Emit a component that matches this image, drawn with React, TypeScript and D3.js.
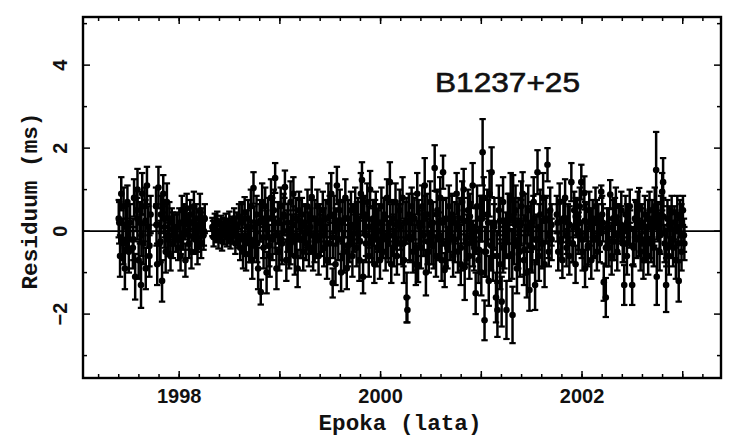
import React from "react";
import * as d3 from "d3";

// ---- data (epoch in years, residual in ms, error in ms) ----
const epochs: number[] = [
  1997.400, 1997.413, 1997.425, 1997.436, 1997.448, 1997.461, 1997.473, 1997.486, 1997.500, 1997.512,
  1997.540, 1997.552, 1997.563, 1997.575, 1997.586, 1997.598, 1997.610, 1997.621, 1997.633, 1997.645,
  1997.657, 1997.668, 1997.680, 1997.692, 1997.704, 1997.716,
  1997.770, 1997.782, 1997.794, 1997.806, 1997.818, 1997.830, 1997.842, 1997.854, 1997.866, 1997.878,
  1997.890, 1997.902, 1997.914, 1997.926, 1997.938, 1997.950,
  1997.965, 1997.978, 1997.990, 1998.002, 1998.014, 1998.026, 1998.038, 1998.050, 1998.062, 1998.074,
  1998.086, 1998.098, 1998.110, 1998.122, 1998.134, 1998.146, 1998.158, 1998.170, 1998.182, 1998.194,
  1998.206, 1998.218, 1998.230, 1998.242, 1998.254,
  1998.330, 1998.342, 1998.354, 1998.366, 1998.378, 1998.390, 1998.402, 1998.414, 1998.426, 1998.438,
  1998.450, 1998.462, 1998.474, 1998.486, 1998.498, 1998.510, 1998.522, 1998.534, 1998.546, 1998.558,
  1998.570, 1998.582, 1998.594, 1998.606,
  1998.618, 1998.634, 1998.650, 1998.664, 1998.680, 1998.696, 1998.712, 1998.726, 1998.738, 1998.752,
  1998.768, 1998.784, 1998.798, 1998.810, 1998.824, 1998.838, 1998.854, 1998.868, 1998.884, 1998.898,
  1998.912, 1998.926, 1998.940, 1998.953, 1998.966, 1998.980, 1998.994, 1999.008, 1999.022, 1999.036,
  1999.050, 1999.064, 1999.078, 1999.092, 1999.106, 1999.120, 1999.134, 1999.148, 1999.162, 1999.176,
  1999.190, 1999.204, 1999.218, 1999.232, 1999.246, 1999.260, 1999.274, 1999.288, 1999.302, 1999.316,
  1999.330, 1999.344, 1999.358, 1999.372, 1999.384, 1999.398, 1999.412, 1999.426, 1999.440, 1999.454,
  1999.468, 1999.482, 1999.496, 1999.510, 1999.524, 1999.538, 1999.552, 1999.566, 1999.580, 1999.594,
  1999.608, 1999.622, 1999.636, 1999.650, 1999.664, 1999.678, 1999.692, 1999.706, 1999.720, 1999.734,
  1999.748, 1999.762, 1999.776, 1999.790, 1999.804, 1999.815, 1999.826, 1999.840, 1999.854, 1999.868,
  1999.882, 1999.896, 1999.910, 1999.924, 1999.938, 1999.952, 1999.966, 1999.980, 1999.994, 2000.008,
  2000.022, 2000.036, 2000.050, 2000.064, 2000.078, 2000.092, 2000.106, 2000.120, 2000.134, 2000.148,
  2000.162, 2000.176,
  2000.190, 2000.204, 2000.218, 2000.232, 2000.246, 2000.258, 2000.266, 2000.280, 2000.294, 2000.308,
  2000.322, 2000.336, 2000.350, 2000.364, 2000.372, 2000.386, 2000.400, 2000.414, 2000.428, 2000.438,
  2000.450, 2000.464, 2000.478, 2000.492, 2000.506, 2000.520, 2000.537, 2000.550, 2000.564, 2000.578,
  2000.592, 2000.606, 2000.620, 2000.636, 2000.650, 2000.664, 2000.678, 2000.692, 2000.706, 2000.720,
  2000.734, 2000.755, 2000.768, 2000.782, 2000.796, 2000.810, 2000.825, 2000.835, 2000.854, 2000.868,
  2000.882, 2000.896, 2000.914, 2000.930, 2000.944, 2000.958, 2000.972, 2000.986, 2001.000, 2001.013,
  2001.024, 2001.032, 2001.046, 2001.060, 2001.074, 2001.082, 2001.102, 2001.116, 2001.130, 2001.146,
  2001.160, 2001.174, 2001.188, 2001.202, 2001.216, 2001.230, 2001.250, 2001.264, 2001.278, 2001.292,
  2001.310, 2001.316, 2001.326, 2001.340, 2001.354, 2001.368, 2001.382, 2001.396, 2001.410, 2001.424,
  2001.438, 2001.452, 2001.466, 2001.478, 2001.492, 2001.506, 2001.520, 2001.534, 2001.548, 2001.558,
  2001.572, 2001.586, 2001.600, 2001.614, 2001.628, 2001.642, 2001.657, 2001.670, 2001.684, 2001.698,
  2001.750, 2001.764, 2001.778, 2001.792, 2001.805, 2001.818, 2001.832, 2001.846, 2001.860, 2001.874,
  2001.894, 2001.908, 2001.922, 2001.936, 2001.950, 2001.964, 2001.978, 2001.993, 2002.006, 2002.023,
  2002.030, 2002.044, 2002.058, 2002.072, 2002.092, 2002.106, 2002.120, 2002.134, 2002.148, 2002.162,
  2002.176, 2002.191, 2002.200, 2002.216, 2002.236, 2002.250, 2002.264, 2002.280, 2002.294, 2002.308,
  2002.322, 2002.336, 2002.350, 2002.364, 2002.390, 2002.404, 2002.419, 2002.432, 2002.446, 2002.460,
  2002.474, 2002.498, 2002.512, 2002.526, 2002.540, 2002.554, 2002.568, 2002.582, 2002.596, 2002.610,
  2002.624, 2002.638, 2002.657, 2002.670, 2002.684, 2002.698, 2002.712, 2002.722, 2002.736, 2002.742,
  2002.756, 2002.770, 2002.784, 2002.796, 2002.805, 2002.820, 2002.835, 2002.848, 2002.862, 2002.876,
  2002.890, 2002.904, 2002.918, 2002.932, 2002.946, 2002.960, 2002.974, 2002.988, 2003.002, 2003.016,
];

const residuals: number[] = [
  0.3, -0.6, 0.9, -0.2, 0.6, -0.9, 0.1, 0.7, -0.5, 0.2,
  -0.4, 0.8, -1.1, 0.5, 1.0, -0.7, 0.2, -1.3, 0.9, -0.3,
  0.6, -0.9, 1.1, 0.1, -0.6, 0.4,
  0.6, -0.8, 1.05, -0.3, 0.4, -1.2, 0.9, 0.1, -0.5, 0.7,
  -0.2, 0.3, -0.6, 0.2, -0.3, 0.1,
  -0.2, 0.1, -0.4, 0.2, -0.6, 0.5, -0.1, 0.3, -0.7, 0.55,
  0.0, -0.3, 0.4, -0.5, 0.2, 0.6, -0.2, 0.3, -0.4, 0.1,
  0.5, -0.3, 0.2, -0.1, 0.3,
  0.1, -0.15, 0.2, -0.05, 0.25, -0.2, 0.0, 0.15, -0.25, 0.1,
  -0.1, 0.2, -0.15, 0.05, 0.25, -0.2, 0.1, -0.05, 0.3, -0.3,
  0.15, -0.1, 0.35, -0.4,
  0.3, -0.5, 0.45, -0.55, 0.1, -0.3, 0.6, -0.7, 1.04, -0.2,
  0.4, -0.9, 0.2, -1.47, 0.7, -0.4, 0.6, -1.0, 0.3, -0.6,
  0.8, -0.2, 0.5, 1.28, -0.9, 0.2, -0.5, 0.6, -0.3, 0.4,
  1.06, -0.7, 0.2, -0.4, 0.7, -0.1, 0.9, -0.6, 0.3, -0.9,
  0.5, -0.2, 0.4, -0.5, 0.2, -0.3, 0.6, -0.4, 0.1, 0.82,
  -0.5, 0.3, -0.2, 0.6, -0.6, 0.2, -0.1, 0.5, -0.4, 0.3,
  -0.7, 0.7, -0.3, 0.9, -1.25, 0.4, -0.8, 1.1, -0.2, 0.5,
  -1.0, 0.2, -0.5, 0.8, -0.9, 0.3, -0.3, 0.5, -0.6, 0.1,
  0.6, -0.4, 0.3, -0.7, 0.9, 1.23, -1.1, 0.4, -0.3, 0.7,
  -0.6, 1.0, -0.2, 0.3, -0.8, 0.5, -0.4, 0.2, -0.7, 0.6,
  -0.2, 0.4, -0.5, 0.8, -0.3, 1.18, -0.8, 0.3, -0.4, 0.7,
  -0.6, 0.2,
  0.5, -0.3, 0.8, -0.7, 0.2, -1.6, -1.9, 0.4, -0.2, 0.6,
  -0.5, 0.3, -0.8, 0.9, -0.82, 0.1, -0.4, 0.6, -0.1, 1.1,
  -1.0, 0.4, -0.5, 0.7, -0.3, 0.2, 1.52, -0.6, 0.5, -0.2,
  0.8, -0.7, 1.42, -0.94, 0.3, -0.4, 0.6, -0.2, 0.4, -0.6,
  0.2, 0.9, -0.5, 0.3, -0.8, 0.7, 1.0, -0.87, -0.3, 0.5,
  -0.6, 0.2, 1.1, -0.4, -1.5, 0.6, -0.7, 0.3, -1.0, 1.9,
  0.8, -2.15, -0.5, 0.4, -1.2, 0.9, 1.42, -0.6, 0.2, -1.6,
  -1.9, 0.5, -0.8, -1.7, 0.7, -0.3, -1.9, 0.3, -0.6, 0.8,
  -2.02, 0.75, -0.2, 0.5, -0.9, 0.2, -0.5, 0.6, 0.9, -0.7,
  0.3, -1.0, 0.5, -1.42, 0.1, -0.4, 0.7, -1.3, -0.2, 1.42,
  -0.6, 0.4, -0.3, 0.8, -0.8, 0.3, 1.6, -0.5, 0.5, -0.2,
  0.4, -0.5, 0.7, -0.2, -0.7, 0.3, 0.8, -0.4, 0.2, -0.6,
  1.18, -0.3, 0.5, -0.8, 0.3, -0.1, 0.6, 1.18, -0.5, 0.92,
  -0.9, 0.2, -0.4, 0.5, -0.7, 0.3, -0.2, 0.6, -0.5, 0.2,
  -0.3, 0.95, 0.4, -1.23, -1.6, 0.1, -0.4, 0.88, -0.6, 0.3,
  -0.25, 0.6, -0.5, 0.2, 0.5, -0.3, -1.3, 0.4, -0.6, 0.1,
  0.6, -1.3, -0.4, 0.3, -0.2, 0.5, 0.6, -0.5, 0.2, -0.7,
  0.4, -0.3, -0.6, 0.5, -0.2, 0.3, -0.4, 0.6, 1.47, -1.1,
  0.2, -0.5, 0.4, 0.95, 1.18, -0.3, -1.3, 0.3, -0.6, 0.1,
  0.45, -0.4, 0.2, -0.7, 0.4, -1.2, 0.3, -0.5, 0.5, -0.3,
];

const errors: number[] = [
  0.45, 0.5, 0.4, 0.5, 0.45, 0.5, 0.55, 0.4, 0.5, 0.45,
  0.5, 0.45, 0.55, 0.5, 0.5, 0.45, 0.5, 0.55, 0.5, 0.5,
  0.45, 0.5, 0.45, 0.5, 0.5, 0.45,
  0.45, 0.5, 0.5, 0.5, 0.45, 0.5, 0.45, 0.5, 0.5, 0.45,
  0.4, 0.4, 0.35, 0.35, 0.35, 0.3,
  0.3, 0.3, 0.3, 0.35, 0.35, 0.35, 0.35, 0.35, 0.4, 0.35,
  0.35, 0.35, 0.35, 0.4, 0.35, 0.35, 0.35, 0.35, 0.4, 0.35,
  0.4, 0.35, 0.35, 0.35, 0.35,
  0.22, 0.22, 0.22, 0.22, 0.22, 0.22, 0.22, 0.22, 0.22, 0.22,
  0.22, 0.22, 0.22, 0.22, 0.22, 0.22, 0.25, 0.25, 0.25, 0.25,
  0.3, 0.3, 0.3, 0.3,
  0.4, 0.4, 0.37, 0.4, 0.4, 0.45, 0.4, 0.45, 0.38, 0.45,
  0.45, 0.5, 0.45, 0.3, 0.45, 0.5, 0.45, 0.5, 0.5, 0.5,
  0.45, 0.5, 0.5, 0.36, 0.5, 0.5, 0.45, 0.45, 0.5, 0.5,
  0.4, 0.5, 0.45, 0.5, 0.5, 0.5, 0.4, 0.45, 0.5, 0.45,
  0.45, 0.45, 0.4, 0.45, 0.45, 0.4, 0.4, 0.45, 0.45, 0.48,
  0.45, 0.45, 0.45, 0.4, 0.45, 0.45, 0.4, 0.45, 0.45, 0.45,
  0.45, 0.45, 0.5, 0.5, 0.35, 0.45, 0.5, 0.45, 0.5, 0.5,
  0.45, 0.5, 0.5, 0.45, 0.5, 0.45, 0.45, 0.45, 0.5, 0.45,
  0.45, 0.45, 0.5, 0.5, 0.5, 0.43, 0.4, 0.45, 0.45, 0.45,
  0.5, 0.45, 0.45, 0.45, 0.45, 0.45, 0.45, 0.45, 0.45, 0.45,
  0.45, 0.4, 0.45, 0.45, 0.45, 0.48, 0.45, 0.45, 0.45, 0.45,
  0.45, 0.45,
  0.5, 0.5, 0.5, 0.55, 0.5, 0.6, 0.3, 0.5, 0.55, 0.45,
  0.5, 0.5, 0.5, 0.5, 0.41, 0.5, 0.5, 0.5, 0.5, 0.66,
  0.55, 0.5, 0.5, 0.5, 0.5, 0.5, 0.55, 0.5, 0.5, 0.5,
  0.5, 0.5, 0.4, 0.41, 0.5, 0.5, 0.5, 0.5, 0.5, 0.5,
  0.5, 0.5, 0.5, 0.5, 0.5, 0.5, 0.5, 0.79, 0.5, 0.5,
  0.55, 0.5, 0.54, 0.55, 0.5, 0.5, 0.55, 0.55, 0.55, 0.8,
  0.5, 0.48, 0.6, 0.6, 0.6, 0.55, 0.6, 0.6, 0.6, 0.6,
  0.65, 0.6, 0.6, 0.6, 0.6, 0.6, 0.7, 0.6, 0.6, 0.6,
  0.68, 0.6, 0.6, 0.6, 0.6, 0.6, 0.6, 0.6, 0.52, 0.6,
  0.6, 0.6, 0.6, 0.5, 0.6, 0.6, 0.6, 0.6, 0.6, 0.53,
  0.6, 0.6, 0.6, 0.6, 0.55, 0.55, 0.4, 0.35, 0.55, 0.5,
  0.45, 0.45, 0.45, 0.45, 0.43, 0.45, 0.45, 0.45, 0.45, 0.45,
  0.46, 0.45, 0.45, 0.45, 0.45, 0.45, 0.45, 0.42, 0.45, 0.4,
  0.45, 0.45, 0.45, 0.45, 0.45, 0.45, 0.45, 0.45, 0.45, 0.45,
  0.45, 0.15, 0.45, 0.45, 0.47, 0.45, 0.45, 0.35, 0.45, 0.45,
  0.45, 0.45, 0.45, 0.45, 0.45, 0.45, 0.48, 0.45, 0.45, 0.45,
  0.4, 0.48, 0.45, 0.45, 0.45, 0.45, 0.44, 0.45, 0.45, 0.45,
  0.45, 0.45, 0.45, 0.45, 0.45, 0.45, 0.45, 0.45, 0.92, 0.68,
  0.45, 0.45, 0.45, 0.45, 0.58, 0.45, 0.65, 0.45, 0.45, 0.45,
  0.4, 0.45, 0.4, 0.45, 0.45, 0.5, 0.45, 0.45, 0.35, 0.4,
];

// second group of TOAs (interleaved, residuals close to zero)
const epochs2: number[] = [
  1997.405, 1997.445, 1997.485, 1997.545, 1997.585, 1997.625, 1997.665, 1997.705, 1997.775, 1997.815,
  1997.855, 1997.895, 1997.935,
  1997.975, 1998.015, 1998.055, 1998.095, 1998.135, 1998.175, 1998.215, 1998.245,
  1998.336, 1998.376, 1998.416, 1998.456, 1998.496, 1998.536, 1998.576,
  1998.625, 1998.655, 1998.685, 1998.715, 1998.745, 1998.775, 1998.805, 1998.835, 1998.865, 1998.895,
  1998.925, 1998.955, 1998.985, 1999.015, 1999.045, 1999.075, 1999.105, 1999.135, 1999.165, 1999.195,
  1999.225, 1999.255, 1999.285, 1999.315, 1999.345, 1999.375, 1999.405, 1999.435, 1999.465, 1999.495,
  1999.525, 1999.555, 1999.585, 1999.615, 1999.645, 1999.675, 1999.705, 1999.735, 1999.765, 1999.795,
  1999.825, 1999.855, 1999.885, 1999.915, 1999.945, 1999.975, 2000.005, 2000.035, 2000.065, 2000.095,
  2000.125, 2000.155,
  2000.197, 2000.227, 2000.257, 2000.287, 2000.317, 2000.347, 2000.377, 2000.407, 2000.437, 2000.467,
  2000.497, 2000.527, 2000.557, 2000.587, 2000.617, 2000.647, 2000.677, 2000.707, 2000.737, 2000.767,
  2000.797, 2000.827, 2000.857, 2000.887, 2000.917, 2000.947, 2000.977, 2001.007, 2001.037, 2001.067,
  2001.097, 2001.127, 2001.157, 2001.187, 2001.217, 2001.247, 2001.277, 2001.307, 2001.337, 2001.367,
  2001.397, 2001.427, 2001.457, 2001.487, 2001.517, 2001.547, 2001.577, 2001.607, 2001.637, 2001.667,
  2001.697,
  2001.757, 2001.787, 2001.817, 2001.847, 2001.877, 2001.907, 2001.937, 2001.967, 2001.997, 2002.027,
  2002.057, 2002.087, 2002.117, 2002.147, 2002.177, 2002.207, 2002.237, 2002.267, 2002.297, 2002.327,
  2002.357, 2002.387, 2002.417, 2002.447, 2002.477, 2002.507, 2002.537, 2002.567, 2002.597, 2002.627,
  2002.657, 2002.687, 2002.717, 2002.747, 2002.777, 2002.807, 2002.837, 2002.867, 2002.897, 2002.927,
  2002.957, 2002.987, 2003.012,
];

const residuals2: number[] = [
  0.2, -0.3, 0.1, -0.2, 0.3, -0.1, 0.25, -0.35, 0.15, -0.25,
  0.3, -0.1, 0.05,
  0.1, -0.2, 0.15, -0.1, 0.2, -0.15, 0.1, 0.0,
  0.05, -0.05, 0.0, 0.1, -0.1, 0.05, -0.1,
  0.2, -0.1, 0.3, -0.25, 0.1, -0.3, 0.25, -0.15, 0.05, -0.35,
  0.3, -0.1, 0.2, -0.2, 0.35, 0.0, -0.3, 0.15, -0.1, 0.25,
  -0.2, 0.1, -0.05, 0.3, -0.25, 0.2, -0.1, 0.05, -0.3, 0.35,
  -0.15, 0.1, 0.25, -0.2, 0.3, -0.35, 0.15, -0.05, 0.2, -0.25,
  0.35, -0.1, 0.1, -0.3, 0.25, 0.0, -0.2, 0.3, -0.15, 0.2,
  -0.1, 0.15,
  0.1, -0.3, 0.25, -0.15, 0.35, -0.4, 0.2, -0.05, 0.3, -0.25,
  0.15, -0.35, 0.4, -0.1, 0.2, -0.3, 0.05, 0.3, -0.2, 0.1,
  -0.4, 0.25, -0.15, 0.35, -0.3, 0.0, -0.45, 0.3, -0.5, 0.2,
  -0.35, 0.1, -0.6, 0.25, -0.4, -0.1, 0.3, -0.55, 0.15, -0.3,
  0.2, -0.45, 0.05, -0.35, 0.3, -0.2, 0.1, -0.3, 0.25, -0.1,
  0.15,
  0.2, -0.25, 0.3, -0.1, 0.15, -0.3, 0.35, 0.0, -0.2, 0.25,
  -0.35, 0.1, -0.15, 0.3, -0.05, 0.2, -0.4, 0.1, -0.25, 0.35,
  -0.1, 0.15, -0.3, 0.2, 0.05, -0.35, 0.25, -0.15, 0.1, -0.2,
  0.3, -0.3, 0.1, 0.25, -0.1, 0.35, -0.4, 0.15, -0.2, 0.05,
  -0.3, 0.2, -0.1,
];

const errors2: number[] = [
  0.5, 0.5, 0.5, 0.5, 0.5, 0.5, 0.5, 0.5, 0.5, 0.5,
  0.45, 0.4, 0.4,
  0.35, 0.35, 0.35, 0.35, 0.35, 0.35, 0.35, 0.35,
  0.2, 0.2, 0.2, 0.2, 0.2, 0.2, 0.22,
  0.45, 0.5, 0.45, 0.5, 0.5, 0.45, 0.5, 0.5, 0.45, 0.5,
  0.5, 0.45, 0.5, 0.5, 0.45, 0.5, 0.5, 0.45, 0.5, 0.5,
  0.45, 0.5, 0.5, 0.45, 0.5, 0.45, 0.5, 0.5, 0.45, 0.5,
  0.5, 0.45, 0.5, 0.5, 0.45, 0.5, 0.5, 0.45, 0.5, 0.5,
  0.45, 0.5, 0.5, 0.45, 0.5, 0.5, 0.45, 0.5, 0.5, 0.45,
  0.5, 0.5,
  0.55, 0.55, 0.55, 0.55, 0.55, 0.55, 0.55, 0.55, 0.55, 0.55,
  0.55, 0.55, 0.55, 0.55, 0.55, 0.55, 0.55, 0.55, 0.55, 0.55,
  0.55, 0.55, 0.55, 0.55, 0.55, 0.55, 0.55, 0.55, 0.6, 0.55,
  0.6, 0.55, 0.6, 0.55, 0.6, 0.55, 0.6, 0.6, 0.55, 0.6,
  0.55, 0.6, 0.55, 0.6, 0.55, 0.55, 0.55, 0.55, 0.55, 0.55,
  0.5,
  0.45, 0.45, 0.45, 0.45, 0.45, 0.45, 0.45, 0.45, 0.45, 0.45,
  0.45, 0.45, 0.45, 0.45, 0.45, 0.45, 0.45, 0.45, 0.45, 0.45,
  0.45, 0.45, 0.45, 0.45, 0.45, 0.45, 0.45, 0.45, 0.45, 0.45,
  0.45, 0.45, 0.45, 0.45, 0.45, 0.45, 0.45, 0.45, 0.45, 0.45,
  0.45, 0.45, 0.4,
];

const xLabelYears: number[] = [1998, 2000, 2002];
const yLabelValues: number[] = [-2, 0, 2, 4];
const pulsarName = "B1237+25";
const xTitle = "Epoka (lata)";
const yTitle = "Residuum (ms)";

const W = 731;
const H = 448;
const L = 83, R = 721, T = 17, B = 378;

export default function App() {
  const x = d3.scaleLinear().domain([1997.045, 2003.38]).range([L, R]);
  const y = d3.scaleLinear().domain([-3.54, 5.16]).range([B, T]);

  const xMinor = d3.range(0, 31).map((i) => 1997.2 + i * 0.2);
  const xMajor = d3.range(1998, 2004);
  const yTicks = d3.range(-3, 6);

  const n1 = Math.min(epochs.length, residuals.length, errors.length);
  const n2 = Math.min(epochs2.length, residuals2.length, errors2.length);
  const pts = [
    ...d3.range(n2).map((i) => ({ t: epochs2[i], v: residuals2[i], e: errors2[i] })),
    ...d3.range(n1).map((i) => ({ t: epochs[i], v: residuals[i], e: errors[i] })),
  ];

  const capW = 3.2;
  const tickFont = "'Liberation Sans', Arial, sans-serif";
  const titleFont = "'Liberation Mono', 'Courier New', monospace";

  return (
    <svg width={W} height={H} style={{ position: "absolute", left: 0, top: 0, background: "#fff" }}>
      <defs>
        <clipPath id="plotclip">
          <rect x={L} y={T} width={R - L} height={B - T} />
        </clipPath>
      </defs>
      <rect x={0} y={0} width={W} height={H} fill="#fff" />

      <g clipPath="url(#plotclip)">
        <g stroke="#000" strokeWidth={2.5}>
          {pts.map((p, i) => {
            const cx = x(p.t);
            const y1 = y(p.v + p.e);
            const y2 = y(p.v - p.e);
            return (
              <g key={i}>
                <line x1={cx} x2={cx} y1={y1} y2={y2} />
                <line x1={cx - capW} x2={cx + capW} y1={y1} y2={y1} strokeWidth={2.2} />
                <line x1={cx - capW} x2={cx + capW} y1={y2} y2={y2} strokeWidth={2.2} />
              </g>
            );
          })}
        </g>
        <g fill="#000">
          {pts.map((p, i) => (
            <circle key={i} cx={x(p.t)} cy={y(p.v)} r={3.3} />
          ))}
        </g>
        <line x1={L} x2={R} y1={y(0)} y2={y(0)} stroke="#000" strokeWidth={1.8} />
      </g>

      <g stroke="#000" strokeWidth={1.5}>
        {xMinor.map((t, i) => (
          <g key={"xm" + i}>
            <line x1={x(t)} x2={x(t)} y1={B} y2={B - 4} />
            <line x1={x(t)} x2={x(t)} y1={T} y2={T + 4} />
          </g>
        ))}
        {xMajor.map((t) => (
          <g key={"xM" + t}>
            <line x1={x(t)} x2={x(t)} y1={B} y2={B - 7} />
            <line x1={x(t)} x2={x(t)} y1={T} y2={T + 7} />
          </g>
        ))}
        {yTicks.map((v) => {
          const len = v % 2 === 0 ? 7 : 4;
          return (
            <g key={"y" + v}>
              <line x1={L} x2={L + len} y1={y(v)} y2={y(v)} />
              <line x1={R} x2={R - len} y1={y(v)} y2={y(v)} />
            </g>
          );
        })}
      </g>

      <rect x={L} y={T} width={R - L} height={B - T} fill="none" stroke="#000" strokeWidth={2.4} />

      {xLabelYears.map((t) => (
        <text
          key={"xl" + t}
          x={x(t)}
          y={403}
          textAnchor="middle"
          fontFamily={tickFont}
          fontWeight="bold"
          fontSize={20}
          fill="#111"
        >
          {t}
        </text>
      ))}
      {yLabelValues.map((v) => (
        <text
          key={"yl" + v}
          transform={`translate(67,${y(v)}) rotate(-90)`}
          textAnchor="middle"
          fontFamily={tickFont}
          fontWeight="bold"
          fontSize={20}
          fill="#111"
        >
          {v < 0 ? "\u2212" + Math.abs(v) : String(v)}
        </text>
      ))}

      <text
        x={400}
        y={430}
        textAnchor="middle"
        fontFamily={titleFont}
        fontWeight="bold"
        fontSize={22}
        textLength={163}
        lengthAdjust="spacingAndGlyphs"
        fill="#111"
      >
        {xTitle}
      </text>
      <text
        transform={`translate(37,201) rotate(-90)`}
        textAnchor="middle"
        fontFamily={titleFont}
        fontWeight="bold"
        fontSize={22}
        textLength={177}
        lengthAdjust="spacingAndGlyphs"
        fill="#111"
      >
        {yTitle}
      </text>
      <text
        x={435}
        y={92}
        fontFamily={tickFont}
        fontSize={28}
        textLength={145}
        lengthAdjust="spacingAndGlyphs"
        fill="#111"
        stroke="#111"
        strokeWidth={0.6}
      >
        {pulsarName}
      </text>
    </svg>
  );
}
